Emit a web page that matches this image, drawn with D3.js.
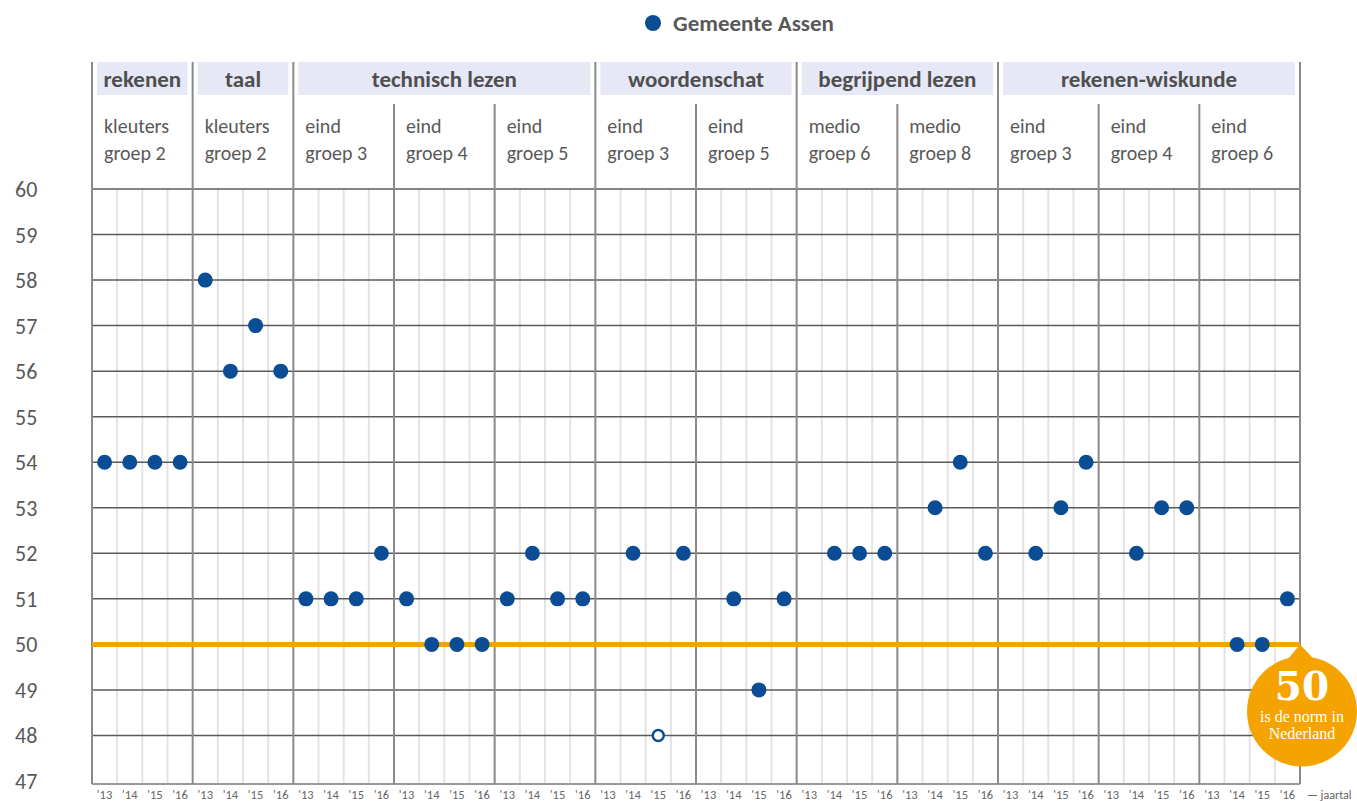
<html>
<head>
<meta charset="utf-8">
<title>Gemeente Assen</title>
<script src="https://d3js.org/d3.v7.min.js"></script>
<style>
body { margin:0; background:#fff; font-family:Calibri, Carlito, "Open Sans", sans-serif; }
</style>
</head>
<body>
<div id="chart"></div>
<script>

// categories (top headers) and how many sub groups each spans
var subjects = ["rekenen", "taal", "technisch lezen", "woordenschat", "begrijpend lezen", "rekenen-wiskunde"];
var subjectSpan = [1, 1, 3, 2, 2, 3];

// sub groups, two lines each
var groupLine1 = ["kleuters", "kleuters", "eind", "eind", "eind", "eind", "eind", "medio", "medio", "eind", "eind", "eind"];
var groupLine2 = ["groep 2", "groep 2", "groep 3", "groep 4", "groep 5", "groep 3", "groep 5", "groep 6", "groep 8", "groep 3", "groep 4", "groep 6"];

var years = ["'13", "'14", "'15", "'16"];

// scores per sub group, '13..'16 (null = no value)
var scores = [
  [54, 54, 54, 54],
  [58, 56, 57, 56],
  [51, 51, 51, 52],
  [51, 50, 50, 50],
  [51, 52, 51, 51],
  [null, 52, 48, 52],
  [null, 51, 49, 51],
  [null, 52, 52, 52],
  [null, 53, 54, 52],
  [null, 52, 53, 54],
  [null, 52, 53, 53],
  [null, 50, 50, 51]
];
// open marker (hollow) points: [group, year index]
var openPoints = [[5, 2]];

var yTicks = d3.range(47, 61);
var norm = 50;

var width = 1357, height = 801;
var plotLeft = 92, plotRight = 1300, plotTop = 189, plotBottom = 781, axisY = 784;
var blue = "#0a4d94", orange = "#f5a300", grey = "#595959";

var svg = d3.select("#chart").append("svg").attr("width", width).attr("height", height);

var nG = groupLine1.length;
var xGroup = d3.scaleLinear().domain([0, nG]).range([plotLeft, plotRight]);
var colW = (xGroup(1) - xGroup(0)) / years.length;
var y = d3.scaleLinear().domain([47, 60]).range([plotBottom, plotTop]);

function xPoint(g, i) { return xGroup(g) + colW * (i + 0.5); }

// minor year lines
var minor = [];
for (var g = 0; g < nG; g++) for (var i = 1; i < years.length; i++) minor.push(xGroup(g) + colW * i);
svg.append("g").selectAll("line").data(minor).join("line")
  .attr("x1", d => d).attr("x2", d => d).attr("y1", plotTop).attr("y2", axisY)
  .attr("stroke", "#e3e3e3").attr("stroke-width", 2);

// horizontal grid lines (bottom one is the axis)
svg.append("g").selectAll("line").data(yTicks).join("line")
  .attr("x1", plotLeft).attr("x2", plotRight)
  .attr("y1", d => d == 47 ? axisY : y(d)).attr("y2", d => d == 47 ? axisY : y(d))
  .attr("stroke", d => d == 47 ? "#999" : "#5a5a5a").attr("stroke-width", d => d == 47 ? 2 : 1.5);

// y labels
svg.append("g").selectAll("text").data(yTicks).join("text")
  .attr("x", 15).attr("y", d => y(d) + 8)
  .attr("fill", grey).attr("font-size", 22).text(d => d);

// subject boundaries
var subjStart = [], acc = 0;
subjectSpan.forEach(function (s) { subjStart.push(acc); acc += s; });
var majorIdx = subjStart.concat([nG]);

// sub group vertical lines
svg.append("g").selectAll("line").data(d3.range(0, nG + 1)).join("line")
  .attr("x1", d => xGroup(d)).attr("x2", d => xGroup(d))
  .attr("y1", d => majorIdx.indexOf(d) >= 0 ? 62 : 104).attr("y2", axisY)
  .attr("stroke", "#8a8a8a").attr("stroke-width", 2);

// subject header boxes
var hdr = svg.append("g").selectAll("g").data(subjects).join("g");
hdr.append("rect")
  .attr("x", (d, i) => xGroup(subjStart[i]) + 5)
  .attr("width", (d, i) => xGroup(subjStart[i] + subjectSpan[i]) - xGroup(subjStart[i]) - 10)
  .attr("y", 62).attr("height", 33).attr("fill", "#e6e8f5");
hdr.append("text")
  .attr("x", (d, i) => (xGroup(subjStart[i]) + xGroup(subjStart[i] + subjectSpan[i])) / 2)
  .attr("y", 87).attr("text-anchor", "middle")
  .attr("font-weight", "bold").attr("font-size", 23).attr("fill", "#4f4f4f")
  .text(d => d);

// sub group labels
var gl = svg.append("g").selectAll("text").data(groupLine1).join("text")
  .attr("x", (d, i) => xGroup(i) + 12).attr("fill", grey).attr("font-size", 20);
gl.append("tspan").attr("x", (d, i) => xGroup(i) + 12).attr("y", 133).text(d => d);
gl.append("tspan").attr("x", (d, i) => xGroup(i) + 12).attr("y", 160).text((d, i) => groupLine2[i]);

// year labels
var yl = [];
for (var g = 0; g < nG; g++) years.forEach((t, i) => yl.push({ g: g, i: i, t: t }));
svg.append("g").selectAll("text").data(yl).join("text")
  .attr("x", d => xPoint(d.g, d.i)).attr("y", 799).attr("text-anchor", "middle")
  .attr("font-size", 12.5).attr("fill", "#666").text(d => d.t);
svg.append("text").attr("x", 1307).attr("y", 799).attr("font-size", 12).attr("fill", "#666")
  .text("\u2014 jaartal");

// norm line
svg.append("line").attr("x1", plotLeft).attr("x2", plotRight).attr("y1", y(norm)).attr("y2", y(norm))
  .attr("stroke", orange).attr("stroke-width", 5);

// points
var pts = [];
scores.forEach(function (row, g) {
  row.forEach(function (v, i) {
    if (v == null) return;
    var open = openPoints.some(p => p[0] == g && p[1] == i);
    pts.push({ g: g, i: i, v: v, open: open });
  });
});
svg.append("g").selectAll("circle").data(pts).join("circle")
  .attr("cx", d => xPoint(d.g, d.i)).attr("cy", d => y(d.v))
  .attr("r", d => d.open ? 5.5 : 7.5)
  .attr("fill", d => d.open ? "#fff" : blue)
  .attr("stroke", d => d.open ? blue : "none").attr("stroke-width", 2.5);

// norm callout
var cx = 1302, cy = y(norm) + 67, r = 55;
var callout = svg.append("g");
callout.append("path")
  .attr("d", "M" + plotRight + "," + y(norm) + " L" + (plotRight - 24) + "," + (cy - 38) + " L" + (plotRight + 20) + "," + (cy - 46) + " Z")
  .attr("fill", orange);
callout.append("circle").attr("cx", cx).attr("cy", cy).attr("r", r).attr("fill", orange);
callout.append("text").attr("x", cx).attr("y", cy - 11).attr("text-anchor", "middle")
  .attr("font-family", "'DejaVu Serif', 'Liberation Serif', serif").attr("font-weight", "bold")
  .attr("font-size", 39).attr("fill", "#fff").text(norm);
callout.append("text").attr("x", cx).attr("y", cy + 11).attr("text-anchor", "middle")
  .attr("font-family", "'Liberation Serif', serif").attr("font-size", 16).attr("fill", "#fff")
  .text("is de norm in");
callout.append("text").attr("x", cx).attr("y", cy + 28).attr("text-anchor", "middle")
  .attr("font-family", "'Liberation Serif', serif").attr("font-size", 16).attr("fill", "#fff")
  .text("Nederland");

// legend
svg.append("circle").attr("cx", 653).attr("cy", 23).attr("r", 8).attr("fill", blue);
svg.append("text").attr("x", 673).attr("y", 31).attr("font-weight", "bold").attr("font-size", 23)
  .attr("fill", "#595959").text("Gemeente Assen");

</script>
</body>
</html>
